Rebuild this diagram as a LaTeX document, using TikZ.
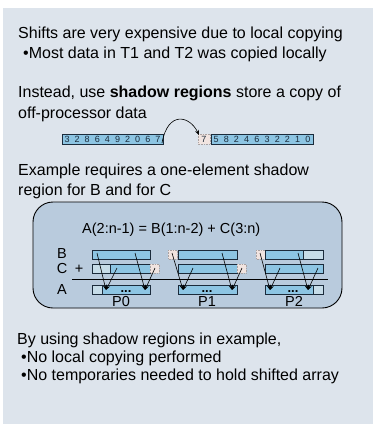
\documentclass[tikz,border=0pt]{standalone}
\usepackage{fontspec}
\setmainfont{Liberation Sans}
\usetikzlibrary{arrows.meta}
\definecolor{panel}{HTML}{DDE4EC}
\definecolor{rbox}{HTML}{B9CBDD}
\definecolor{barblue}{HTML}{8DC5E3}
\definecolor{barlight}{HTML}{C6DCE8}
\definecolor{bardark}{HTML}{1B2B3B}
\definecolor{shadowc}{HTML}{F1E4E0}
\definecolor{shadowd}{HTML}{A9A2A2}
\begin{document}
\begin{tikzpicture}[x=1pt,y=-1pt,
  txt/.style={anchor=base west, inner sep=0pt, font=\fontsize{16}{19}\selectfont, text=black},
  eqt/.style={anchor=base west, inner sep=0pt, font=\fontsize{14.5}{17}\selectfont, text=black},
  lbl/.style={anchor=base, inner sep=0pt, font=\fontsize{14.5}{17}\selectfont, text=black},
  bar/.style={fill=barblue, draw=bardark, line width=0.8pt},
  barl/.style={fill=barlight, draw=bardark, line width=0.8pt},
  shad/.style={fill=shadowc, draw=shadowd, line width=0.6pt, densely dotted},
  arr/.style={-{Stealth[length=5pt,width=4pt]}, line width=0.6pt},
  dig/.style={anchor=base, inner sep=0pt, font=\fontsize{9}{10}\selectfont, text=bardark},
  dots/.style={anchor=base, inner sep=0pt, font=\fontsize{13}{14}\bfseries}]
\useasboundingbox (0,0) rectangle (375,424);
\fill[white] (0,0) rectangle (375,424);
\fill[panel] (3,8) rectangle (373,424);

% top text
\node[txt] (t1) at (18,38) {Shifts are very expensive due to local copying};
\node[txt] (t2) at (23,58) {•Most data in T1 and T2 was copied locally};
\node[txt] (t3) at (18,97) {Instead, use \textbf{shadow regions} store a copy of};
\node[txt] (t4) at (18,118) {off-processor data};

% array row
\draw[bar] (62,134) rectangle (163,144);
\foreach \d [count=\i] in {3,2,8,6,4,9,2,0,6,7}
  \node[dig] (da\i) at ({62+10.1*(\i-0.5)},142.5) {\d};
\draw[shad] (198,134) rectangle (210,144);
\node[dig] (ds) at (204,142.5) {7};
\draw[bar] (211,134) rectangle (313,144);
\foreach \d [count=\i] in {5,8,2,4,6,3,2,2,1,0}
  \node[dig] (db\i) at ({211+10.2*(\i-0.5)},142.5) {\d};
\coordinate (cs) at (162,143);
\coordinate (ce) at (199,135);
\draw[arr] (cs) .. controls (168,110) and (190,116) .. (ce);

\node[txt] (t5) at (18,175) {Example requires a one-element shadow};
\node[txt] (t6) at (18,195) {region for B and for C};

% example box
\draw[fill=rbox, line width=0.9pt, rounded corners=20pt] (33,202) rectangle (342,308);
\node[eqt] (eq) at (82,233) {A(2:n-1) = B(1:n-2) + C(3:n)};
\node[lbl] (lB) at (62,258) {B};
\node[lbl] (lC) at (62,273) {C};
\node[lbl] (lp) at (79,273) {+};
\node[lbl] (lA) at (62,294) {A};
\draw[line width=0.8pt] (72,279) -- (328,279);

% P0
\draw[bar] (92,250) rectangle (150,259);
\draw[barl] (92,264) rectangle (110,273);
\draw[bar] (110,264) rectangle (150,273);
\draw[shad] (150,264) rectangle (159,273);
\draw[barl] (92,285) rectangle (102,294);
\draw[bar] (102,285) rectangle (150,294);
\node[dots] (d0) at (126,292) {...};
\node[lbl] (p0) at (121,306) {P0};
% P1
\draw[shad] (168,250) rectangle (177,259);
\draw[bar] (178,250) rectangle (237,259);
\draw[bar] (178,264) rectangle (237,273);
\draw[shad] (237,264) rectangle (246,273);
\draw[bar] (178,285) rectangle (237,294);
\node[dots] (d1) at (207,292) {...};
\node[lbl] (p1) at (207,306) {P1};
% P2
\draw[shad] (256,250) rectangle (265,259);
\draw[bar] (265,250) rectangle (303,259);
\draw[barl] (303,250) rectangle (323,259);
\draw[bar] (265,264) rectangle (323,273);
\draw[bar] (265,285) rectangle (313,294);
\draw[barl] (313,285) rectangle (323,294);
\node[dots] (d2) at (293,292) {...};
\node[lbl] (p2) at (294,306) {P2};

% arrows
\foreach \n/\bx/\cx/\ax in {a/97/117/106, b/135/155/145, c/172/193/183, d/222/242/232, e/260/280/270, f/298/318/308}{
  \coordinate (bs\n) at (\bx,253);
  \coordinate (cs\n) at (\cx,268);
  \coordinate (ae\n) at (\ax,290);
  \draw[arr] (bs\n) -- (ae\n);
  \draw[arr] (cs\n) -- (ae\n);
}

% bottom text
\node[txt] (t7) at (17,344) {By using shadow regions in example,};
\node[txt] (t8) at (21,362) {•No local copying performed};
\node[txt] (t9) at (21,380) {•No temporaries needed to hold shifted array};
\end{tikzpicture}
\end{document}
